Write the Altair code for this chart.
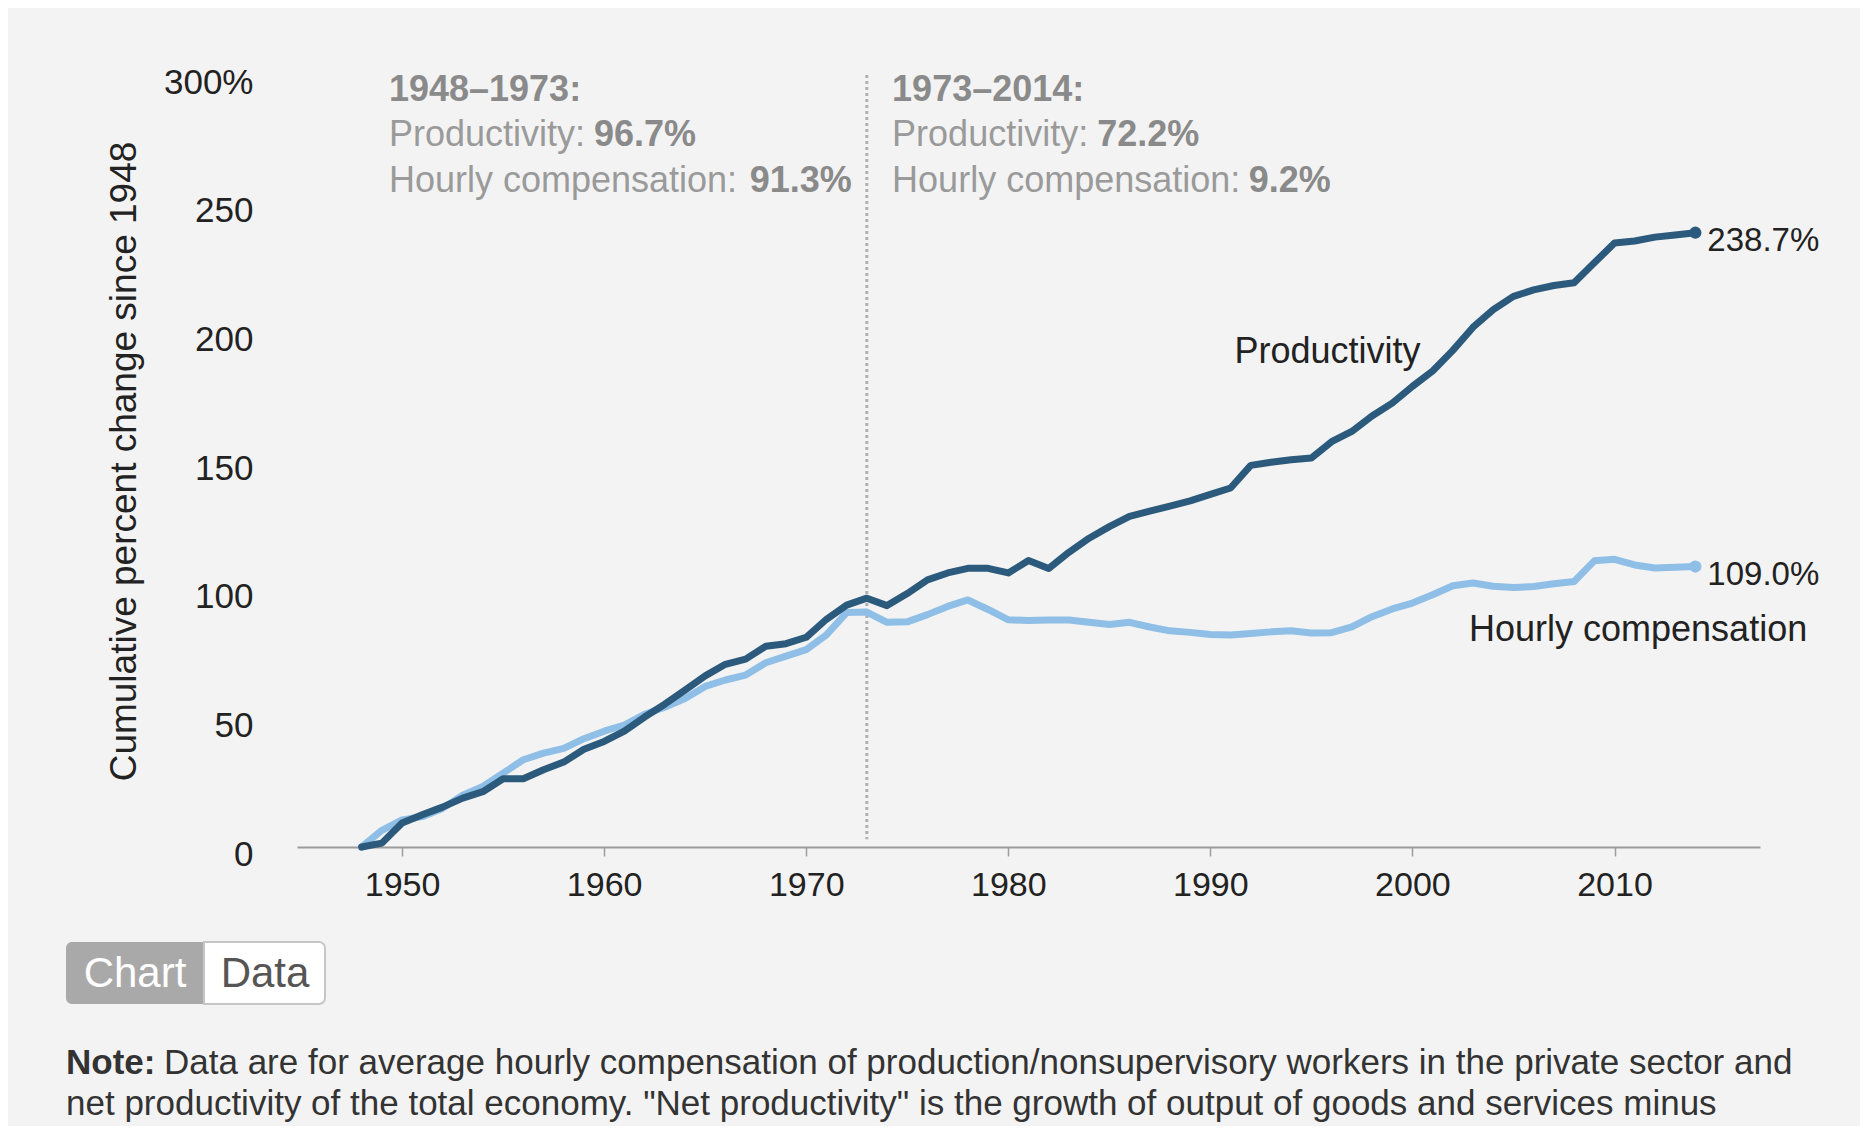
import altair as alt
import pandas as pd

# ---------------- data ----------------
years = list(range(1948, 2015))

productivity = [
    0.0, 1.5, 9.3, 12.5, 15.5, 19.0, 21.5, 26.5, 26.5, 30.0,      # 1948-1957
    33.0, 38.0, 41.0, 45.0, 50.5, 55.5, 61.0, 66.5, 71.0, 73.0,   # 1958-1967
    78.0, 79.0, 81.5, 88.5, 94.0, 96.7, 93.8, 98.5, 103.8, 106.5, # 1968-1977
    108.3, 108.3, 106.5, 111.3, 108.2, 114.5, 120.0, 124.5, 128.5, 130.5,  # 1978-1987
    132.5, 134.5, 137.0, 139.5, 148.3, 149.5, 150.5, 151.2, 157.5, 161.5,  # 1988-1997
    167.5, 172.5, 179.0, 185.0, 193.0, 202.0, 208.8, 214.0, 216.5, 218.2,  # 1998-2007
    219.3, 227.0, 234.7, 235.5, 237.0, 237.8, 238.7,                       # 2008-2014
]

compensation = [
    0.0, 6.5, 10.5, 11.8, 15.0, 20.1, 23.5, 28.7, 33.9, 36.5,     # 1948-1957
    38.3, 42.1, 45.0, 47.4, 51.6, 54.3, 57.7, 62.4, 64.9, 66.8,   # 1958-1967
    71.6, 74.2, 76.7, 82.4, 91.1, 91.3, 87.3, 87.5, 90.3, 93.5,   # 1968-1977
    96.0, 92.3, 88.3, 88.0, 88.2, 88.2, 87.3, 86.5, 87.3, 85.5,   # 1978-1987
    84.0, 83.4, 82.6, 82.4, 83.0, 83.6, 84.0, 83.2, 83.3, 85.5,   # 1988-1997
    89.5, 92.5, 94.8, 98.0, 101.5, 102.6, 101.3, 100.8, 101.2, 102.3,  # 1998-2007
    103.2, 111.2, 111.8, 109.6, 108.4, 108.7, 109.0,                   # 2008-2014
]

x_ticks = [1950, 1960, 1970, 1980, 1990, 2000, 2010]
y_ticks = [0, 50, 100, 150, 200, 250, 300]

period_break = 1973

# ---------------- styling ----------------
FONT = "Liberation Sans"
BG = "#f3f3f3"
DARK = "#2b5a7d"
LIGHT = "#8fbfe6"
GRAY = "#9a9a9a"
BOLDGRAY = "#8a8a8a"
INK = "#222222"

W, H = 1463, 772
xscale = alt.Scale(domain=[1944.8, 2017.2], nice=False, zero=False)
yscale = alt.Scale(domain=[0, 300], nice=False, zero=False)

x_axis = alt.Axis(
    values=x_ticks, format="d", title=None, grid=False,
    domain=True, domainColor="#9c9c9c", domainWidth=2,
    ticks=True, tickColor="#9c9c9c", tickSize=9, tickWidth=1.5,
    labelFont=FONT, labelFontSize=34, labelColor=INK, labelPadding=12,
)
y_axis = alt.Axis(
    values=y_ticks, grid=False, domain=False, ticks=False,
    labelExpr="datum.value == 300 ? '300%' : datum.label",
    labelFont=FONT, labelFontSize=35, labelColor=INK, labelPadding=44,
    labelOffset=7,
    title="Cumulative percent change since 1948",
    titleFont=FONT, titleFontSize=37, titleFontWeight="normal", titleColor=INK,
    titleAngle=-90, titleX=-173, titleY=386, titleAlign="center",
    titleBaseline="middle",
)


def X(field):
    return alt.X(field, type="quantitative", scale=xscale, axis=x_axis)


def Y(field):
    return alt.Y(field, type="quantitative", scale=yscale, axis=y_axis)


prod_df = pd.DataFrame({"year": years, "value": productivity})
comp_df = pd.DataFrame({"year": years, "value": compensation})

comp_line = alt.Chart(comp_df).mark_line(
    color=LIGHT, strokeWidth=7, strokeJoin="round", strokeCap="round"
).encode(x=X("year"), y=Y("value"))
prod_line = alt.Chart(prod_df).mark_line(
    color=DARK, strokeWidth=7, strokeJoin="round", strokeCap="round"
).encode(x=X("year"), y=Y("value"))

ends = pd.DataFrame({
    "year": [years[-1], years[-1]],
    "value": [productivity[-1], compensation[-1]],
    "series": ["Productivity", "Hourly compensation"],
})
ends["label"] = ends["value"].map(lambda v: f"{v:.1f}%")

end_dots = alt.Chart(ends).mark_point(filled=True, size=150, opacity=1).encode(
    x=X("year"), y=Y("value"),
    color=alt.Color("series:N", scale=alt.Scale(
        domain=["Productivity", "Hourly compensation"], range=[DARK, LIGHT]), legend=None),
)
end_labels = alt.Chart(ends).mark_text(
    align="left", baseline="middle", dx=12, dy=8, font=FONT, fontSize=33, color=INK
).encode(x=X("year"), y=Y("value"), text="label:N")

# vertical dotted line at 1973
rule_df = pd.DataFrame({"year": [period_break], "top": [300], "bottom": [3]})
vrule = alt.Chart(rule_df).mark_rule(
    color="#b0b0b0", strokeWidth=3, strokeDash=[3, 3]
).encode(x=X("year"), y=Y("top"), y2="bottom:Q")

# series labels
lab_prod = alt.Chart(pd.DataFrame({"text": ["Productivity"], "year": [1995.8], "value": [192.5]})).mark_text(
    align="center", baseline="middle", font=FONT, fontSize=36, color=INK
).encode(x=X("year"), y=Y("value"), text="text:N")
lab_comp = alt.Chart(pd.DataFrame({"text": ["Hourly compensation"], "year": [2002.8], "value": [84.3]})).mark_text(
    align="left", baseline="middle", font=FONT, fontSize=36, color=INK
).encode(x=X("year"), y=Y("value"), text="text:N")

# period annotations
ann_normal = pd.DataFrame({
    "text": ["Productivity: ", "Hourly compensation: ",
             "Productivity: ", "Hourly compensation: "],
    "year": [1949.35, 1949.35, 1974.25, 1974.25],
    "value": [276.5, 258.7, 276.5, 258.7],
})
ann_bold = pd.DataFrame({
    "text": ["1948–1973:", "96.7%", "91.3%", "1973–2014:", "72.2%", "9.2%"],
    "year": [1949.35, 1959.5, 1967.2, 1974.25, 1984.4, 1991.9],
    "value": [294.0, 276.5, 258.7, 294.0, 276.5, 258.7],
})
ann1 = alt.Chart(ann_normal).mark_text(
    align="left", baseline="middle", font=FONT, fontSize=36, color=GRAY
).encode(x=X("year"), y=Y("value"), text="text:N")
ann2 = alt.Chart(ann_bold).mark_text(
    align="left", baseline="middle", font=FONT, fontSize=36, fontWeight="bold",
    color=BOLDGRAY
).encode(x=X("year"), y=Y("value"), text="text:N")

# "Chart | Data" toggle below the plot (decoration, pixel-placed)
one = pd.DataFrame({"k": [0]})
btn_chart = alt.Chart(one).mark_rect(
    color="#a9a9a9", cornerRadiusTopLeft=6, cornerRadiusBottomLeft=6
).encode(x=alt.value(-231), x2=alt.value(-93), y=alt.value(867), y2=alt.value(929))
btn_data = alt.Chart(one).mark_rect(
    fill="#ffffff", stroke="#c6c6c6", strokeWidth=2,
    cornerRadiusTopRight=6, cornerRadiusBottomRight=6
).encode(x=alt.value(-93), x2=alt.value(28), y=alt.value(867), y2=alt.value(929))
txt_chart = alt.Chart(one).mark_text(
    text="Chart", font=FONT, fontSize=42, color="#ffffff", align="center", baseline="middle"
).encode(x=alt.value(-162), y=alt.value(899))
txt_data = alt.Chart(one).mark_text(
    text="Data", font=FONT, fontSize=42, color="#555555", align="center", baseline="middle"
).encode(x=alt.value(-32), y=alt.value(899))

# note text
NOTE_SIZE = 35
note_bold = alt.Chart(one).mark_text(
    text="Note:", font=FONT, fontSize=NOTE_SIZE, fontWeight="bold", color="#333333",
    align="left", baseline="middle"
).encode(x=alt.value(-231), y=alt.value(988))
note_l1 = alt.Chart(one).mark_text(
    text="Data are for average hourly compensation of production/nonsupervisory workers in the private sector and",
    font=FONT, fontSize=NOTE_SIZE, color="#333333", align="left", baseline="middle"
).encode(x=alt.value(-133), y=alt.value(988))
note_l2 = alt.Chart(one).mark_text(
    text='net productivity of the total economy. "Net productivity" is the growth of output of goods and services minus',
    font=FONT, fontSize=NOTE_SIZE, color="#333333", align="left", baseline="middle"
).encode(x=alt.value(-231), y=alt.value(1029))

chart = alt.layer(
    vrule, comp_line, prod_line, end_dots, end_labels, lab_prod, lab_comp,
    ann1, ann2, btn_chart, btn_data, txt_chart, txt_data, note_bold, note_l1, note_l2,
).properties(
    width=W, height=H,
    autosize=alt.AutoSizeParams(type="none"),
    padding={"left": 289, "top": 67, "right": 100, "bottom": 279},
    background=BG,
).configure_view(stroke=None)

chart.save("out.html", embed_options={"renderer": "svg", "actions": False})
